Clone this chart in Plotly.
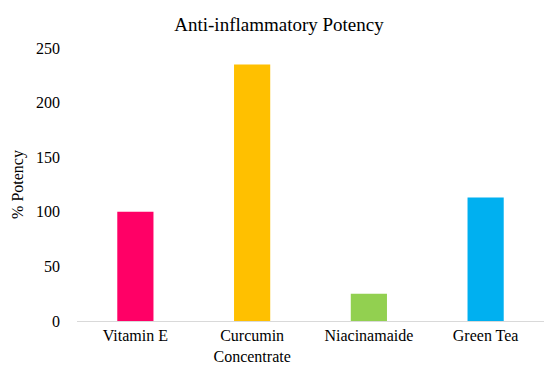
import plotly.graph_objects as go

categories = ["Vitamin E", "Curcumin<br>Concentrate", "Niacinamaide", "Green Tea"]
potency = [100, 235, 25, 113]
colors = ["#FF0066", "#FFC000", "#92D050", "#00B0F0"]
y_ticks = [0, 50, 100, 150, 200, 250]

font = "Liberation Serif"
W, H = 542, 359  # page body has an 8px margin

fig = go.Figure(go.Bar(
    x=categories, y=potency, marker=dict(color=colors, line=dict(width=0)),
    width=0.31,
))

fig.update_layout(
    width=W, height=H,
    paper_bgcolor="white", plot_bgcolor="white",
    margin=dict(l=69, r=6, t=40, b=46, autoexpand=False),
    font=dict(family=font, size=16, color="#000000"),
    title=dict(text="Anti-inflammatory Potency", x=0.5, xanchor="center",
               y=1 - 16 / H, yanchor="middle", font=dict(size=19, family=font)),
    showlegend=False,
)
fig.update_xaxes(showline=True, linecolor="#D9D9D9", linewidth=1, showgrid=False,
                 ticks="", tickfont=dict(size=16, family=font), automargin=False)
fig.update_yaxes(range=[0, 250], tickvals=y_ticks, showgrid=False, zeroline=False,
                 showline=False, ticks="", ticklabelstandoff=16, automargin=False,
                 title=dict(text="% Potency", font=dict(size=16, family=font), standoff=8),
                 tickfont=dict(size=16, family=font))

fig.write_html("out.html")
